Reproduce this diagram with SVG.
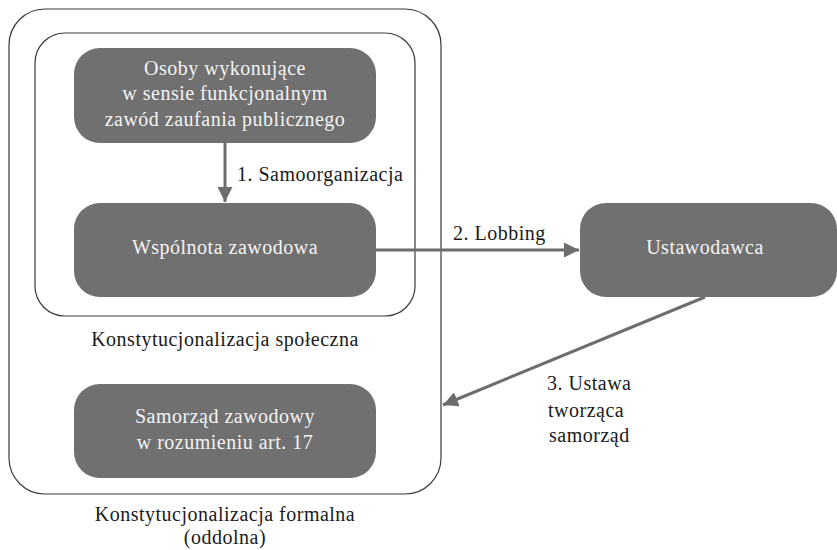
<svg xmlns="http://www.w3.org/2000/svg" width="837" height="550" viewBox="0 0 837 550">
<defs>
<style>
.frame{fill:none;stroke:#3a3a3a;stroke-width:1.2}
.node{fill:#707070}
.nt{font-family:"Liberation Serif","DejaVu Serif",serif;font-size:20px;letter-spacing:0.5px;fill:#f4f4f4;text-anchor:middle}
.lbl{font-family:"Liberation Serif","DejaVu Serif",serif;font-size:20px;letter-spacing:0.5px;fill:#1a1a1a}
.mid{text-anchor:middle}
.edge{stroke:#6d6d6d;stroke-width:3;fill:none}
</style>
<marker id="ah" viewBox="0 0 10 10" refX="10" refY="5" markerWidth="5" markerHeight="5" markerUnits="strokeWidth" orient="auto">
<path d="M0,0 L10,5 L0,10 z" fill="#6d6d6d"/>
</marker>
</defs>
<rect x="0" y="0" width="837" height="550" fill="#fff"/>
<g id="frame-formal">
<rect class="frame" x="9" y="9" width="432" height="485" rx="36"/>
<text class="lbl mid" x="225" y="521">Konstytucjonalizacja formalna</text>
<text class="lbl mid" x="225" y="544">(oddolna)</text>
</g>
<g id="frame-spoleczna">
<rect class="frame" x="35" y="33" width="380" height="283" rx="30"/>
<text class="lbl mid" x="225" y="346">Konstytucjonalizacja społeczna</text>
</g>
<g id="connectors">
<line class="edge" x1="225" y1="143" x2="225" y2="202" marker-end="url(#ah)"/>
<text class="lbl" x="237" y="181">1. Samoorganizacja</text>
<line class="edge" x1="376" y1="250" x2="579" y2="250" marker-end="url(#ah)"/>
<text class="lbl" x="453" y="240">2. Lobbing</text>
<line class="edge" x1="705" y1="297" x2="443" y2="405" marker-end="url(#ah)"/>
<text class="lbl" x="547" y="390">3. Ustawa</text>
<text class="lbl" x="548" y="417">tworząca</text>
<text class="lbl" x="549" y="442">samorząd</text>
</g>
<g id="node-osoby">
<rect class="node" x="74" y="48" width="302" height="95" rx="26"/>
<text class="nt" x="225" y="75">Osoby wykonujące</text>
<text class="nt" x="225" y="100">w sensie funkcjonalnym</text>
<text class="nt" x="225" y="126">zawód zaufania publicznego</text>
</g>
<g id="node-wspolnota">
<rect class="node" x="74" y="203" width="302" height="94" rx="26"/>
<text class="nt" x="225" y="254">Wspólnota zawodowa</text>
</g>
<g id="node-samorzad">
<rect class="node" x="74" y="384" width="302" height="94" rx="26"/>
<text class="nt" x="225" y="423">Samorząd zawodowy</text>
<text class="nt" x="225" y="449">w rozumieniu art. 17</text>
</g>
<g id="node-ustawodawca">
<rect class="node" x="580" y="203" width="257" height="94" rx="26"/>
<text class="nt" x="705" y="254">Ustawodawca</text>
</g>
</svg>
